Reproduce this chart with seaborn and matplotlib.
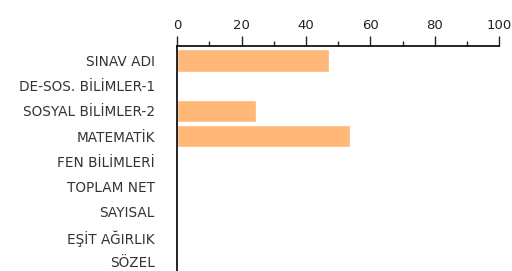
import numpy as np
import pandas as pd
import matplotlib.pyplot as plt
import seaborn as sns
from matplotlib.ticker import MultipleLocator

# Values (percent)
categories = ["SINAV ADI", "DE-SOS. BİLİMLER-1", "SOSYAL BİLİMLER-2", "MATEMATİK",
              "FEN BİLİMLERİ", "TOPLAM NET", "SAYISAL", "EŞİT AĞIRLIK", "SÖZEL"]
values = [47.3, 0, 24.5, 53.7, 0, 0, 0, 0, 0]

df = pd.DataFrame({"kategori": categories, "deger": values})

sns.set_style("white")
plt.rcParams['font.family'] = ['DejaVu Sans']

fig = plt.figure(figsize=(5.12, 2.71), dpi=100)
ax = fig.add_axes([0.346, 0.0, 0.629, 0.832])

sns.barplot(data=df, x="deger", y="kategori", orient="h", color="#ffb877",
            saturation=1, width=0.9, ax=ax)

ax.set_xlim(0, 100)
ax.set_ylim(8.36, -0.6)
ax.xaxis.tick_top()
ax.xaxis.set_major_locator(MultipleLocator(20))
ax.xaxis.set_minor_locator(MultipleLocator(10))
ax.tick_params(axis="x", which="major", direction="out", length=7, width=1,
               labelsize=9.5, pad=3, colors="#222222", top=True, bottom=False)
ax.tick_params(axis="x", which="minor", direction="out", length=3.5, width=1,
               top=True, bottom=False)
ax.tick_params(axis="y", length=0, pad=16, labelsize=9.8, colors="#333333")
ax.set_xlabel("")
ax.set_ylabel("")

for side in ["right", "bottom"]:
    ax.spines[side].set_visible(False)
for side in ["top", "left"]:
    ax.spines[side].set_color("black")
    ax.spines[side].set_linewidth(1.2)

fig.savefig("out.png", dpi=100)
